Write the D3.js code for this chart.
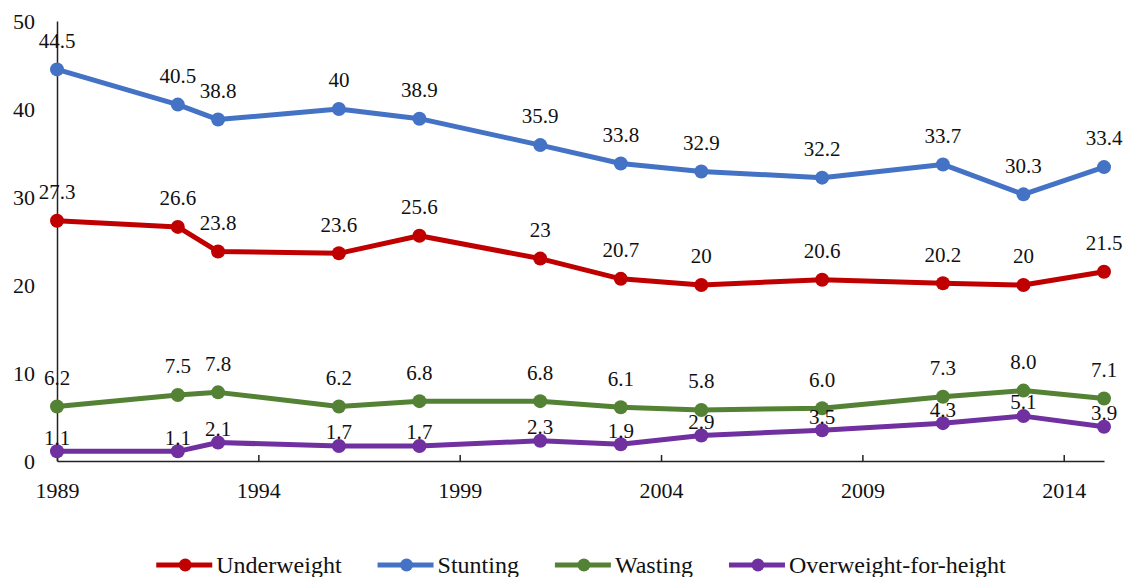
<!DOCTYPE html>
<html>
<head>
<meta charset="utf-8">
<script src="https://cdn.jsdelivr.net/npm/d3@7"></script>
<style>
  html, body { margin: 0; padding: 0; background: #fff; }
  svg { display: block; }
</style>
</head>
<body>
<svg id="chart" width="1130" height="577"></svg>
<script>
const years = [1989, 1992, 1993, 1996, 1998, 2001, 2003, 2005, 2008, 2011, 2013, 2015];
const underweight = [27.3, 26.6, 23.8, 23.6, 25.6, 23, 20.7, 20, 20.6, 20.2, 20, 21.5];
const stunting = [44.5, 40.5, 38.8, 40, 38.9, 35.9, 33.8, 32.9, 32.2, 33.7, 30.3, 33.4];
const wasting = [6.2, 7.5, 7.8, 6.2, 6.8, 6.8, 6.1, 5.8, 6.0, 7.3, 8.0, 7.1];
const overweight = [1.1, 1.1, 2.1, 1.7, 1.7, 2.3, 1.9, 2.9, 3.5, 4.3, 5.1, 3.9];
const seriesNames = ["Underweight", "Stunting", "Wasting", "Overweight-for-height"];
const xTickValues = [1989, 1994, 1999, 2004, 2009, 2014];
const yTickValues = [0, 10, 20, 30, 40, 50];

const FONT = '"Liberation Serif", "DejaVu Serif", serif';
const colors = ["#C00000", "#4472C4", "#548235", "#7030A0"];
const seriesValues = [underweight, stunting, wasting, overweight];
const labelFormats = [d => String(d), d => String(d), d => d.toFixed(1), d => d.toFixed(1)];
const labelOffsets = [29, 29, 29, 14];

const svg = d3.select("#chart");
const x = d3.scaleLinear().domain([1989, 2015]).range([57, 1104]);
const y = d3.scaleLinear().domain([0, 50]).range([461, 21]);

// Y axis
const yAxis = svg.append("g").attr("transform", "translate(57,0)")
  .call(d3.axisLeft(y).tickValues(yTickValues).tickSize(0).tickPadding(22));
yAxis.attr("font-family", null);
yAxis.select(".domain").attr("stroke", "#222").attr("stroke-width", 1.5);
yAxis.selectAll("text").attr("font-size", 22).attr("fill", "#111").attr("font-family", FONT);

// X axis
const xAxis = svg.append("g").attr("transform", "translate(0,461)")
  .call(d3.axisBottom(x).tickValues(xTickValues).tickFormat(d3.format("d"))
    .tickSizeInner(-6).tickSizeOuter(0).tickPadding(21));
xAxis.attr("font-family", null);
xAxis.select(".domain").attr("stroke", "#222").attr("stroke-width", 1.5);
xAxis.selectAll(".tick line").attr("stroke", "#222").attr("stroke-width", 1.5);
xAxis.selectAll("text").attr("font-size", 22).attr("fill", "#111").attr("font-family", FONT);

// Series
const line = d3.line().x(d => x(d.year)).y(d => y(d.value));
seriesValues.forEach((vals, i) => {
  const pts = years.map((yr, j) => ({ year: yr, value: vals[j] }));
  const g = svg.append("g");
  g.append("path").datum(pts).attr("d", line)
    .attr("fill", "none").attr("stroke", colors[i]).attr("stroke-width", 5)
    .attr("stroke-linejoin", "round");
  g.selectAll("circle").data(pts).join("circle")
    .attr("cx", d => x(d.year)).attr("cy", d => y(d.value)).attr("r", 7)
    .attr("fill", colors[i]);
});
// Labels on top
seriesValues.forEach((vals, i) => {
  const pts = years.map((yr, j) => ({ year: yr, value: vals[j] }));
  svg.append("g").selectAll("text").data(pts).join("text")
    .attr("x", d => x(d.year)).attr("y", d => y(d.value) - labelOffsets[i])
    .attr("dy", "0.35em").attr("text-anchor", "middle")
    .attr("font-size", 21).attr("fill", "#111").attr("font-family", FONT)
    .text(d => labelFormats[i](d.value));
});

// Legend
const legend = svg.append("g");
let cx = 0;
seriesNames.forEach((name, i) => {
  const g = legend.append("g");
  g.append("line").attr("x1", cx).attr("x2", cx + 56).attr("y1", 0).attr("y2", 0)
    .attr("stroke", colors[i]).attr("stroke-width", 5);
  g.append("circle").attr("cx", cx + 29).attr("cy", 0).attr("r", 6.5).attr("fill", colors[i]);
  const t = g.append("text").attr("x", cx + 60).attr("y", 0).attr("dy", "0.35em")
    .attr("font-size", 24).attr("fill", "#111").attr("font-family", FONT).text(name);
  const w = t.node().getComputedTextLength();
  cx += 60 + w + 36;
});
const totalW = cx - 36;
legend.attr("transform", `translate(${581 - totalW / 2},565)`);
</script>
</body>
</html>
